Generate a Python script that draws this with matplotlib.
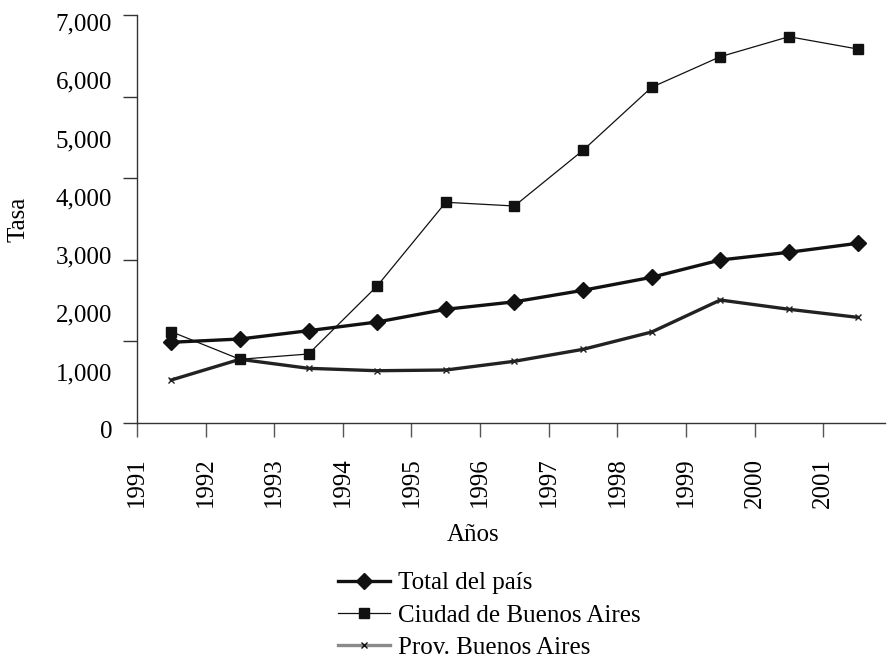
import matplotlib
matplotlib.use("Agg")
import matplotlib.pyplot as plt
from matplotlib.transforms import ScaledTranslation
import numpy as np

years = ["1991", "1992", "1993", "1994", "1995", "1996", "1997", "1998", "1999", "2000", "2001"]
total_pais = [1385, 1441, 1584, 1733, 1951, 2079, 2277, 2500, 2797, 2929, 3083]
ciudad_ba = [1566, 1093, 1184, 2351, 3787, 3723, 4679, 5760, 6285, 6628, 6417]
prov_ba = [738, 1093, 938, 897, 909, 1059, 1264, 1561, 2110, 1951, 1813]
ytick_labels = ["0", "1,000", "2,000", "3,000", "4,000", "5,000", "6,000", "7,000"]

plt.rcParams['font.family'] = ['Liberation Serif', 'DejaVu Serif']

fig = plt.figure(figsize=(8.88, 6.59), dpi=100)
ax = fig.add_axes([137/888, 1-423/659, (885-137)/888, (423-15)/659])

x = np.arange(len(years)) + 0.5
ax.plot(x, total_pais, color='#111111', lw=2.4, marker='D', ms=8, label='Total del país', zorder=3)
ax.plot(x, ciudad_ba, color='#111111', lw=0.9, marker='s', ms=7, label='Ciudad de Buenos Aires', zorder=4)
ax.plot(x, prov_ba, color='#222222', lw=2.4, marker='x', ms=5, mew=1.0, label='Prov. Buenos Aires', zorder=2)

ax.set_xlim(0, 10.9)
ax.set_ylim(0, 7000)

for s in ['top', 'right']:
    ax.spines[s].set_visible(False)
for s in ['left', 'bottom']:
    ax.spines[s].set_color('#333333')
    ax.spines[s].set_linewidth(1.0)

ax.set_xticks(np.arange(len(years)))
ax.set_xticklabels(years, rotation=90, fontsize=18)
ax.tick_params(axis='x', direction='out', length=10, width=1, color='#555555', pad=15)

# tick marks (unlabeled) and labels at separate positions
ax.yaxis.remove_overlapping_locs = False
ax.set_yticks(np.linspace(0, 7000, 6))
ax.set_yticklabels([])
ax.tick_params(axis='y', which='major', direction='out', length=10, width=1, color='#333333')
ax.set_yticks(np.arange(0, 8000, 1000), minor=True)
ax.set_yticklabels(ytick_labels, minor=True, fontsize=18)
ax.tick_params(axis='y', which='minor', length=0, pad=18)
off = ScaledTranslation(0, -7/100, fig.dpi_scale_trans)
for t in ax.yaxis.get_minor_ticks():
    t.label1.set_transform(t.label1.get_transform() + off)

ax.set_ylabel('Tasa', fontsize=18, labelpad=19)
fig.text(473/888, 1-535/659, 'Años', fontsize=18, ha='center', va='center')

leg = fig.legend(loc='upper left', bbox_to_anchor=(338/888, 1-572/659), frameon=False,
                 fontsize=18, handlelength=2.08, handletextpad=0.3, labelspacing=0.38,
                 borderpad=0, borderaxespad=0)
h = leg.legend_handles[2]
h.set_color('#8a8a8a')
h.set_markeredgecolor('#111111')

fig.savefig('out.png', dpi=100)
